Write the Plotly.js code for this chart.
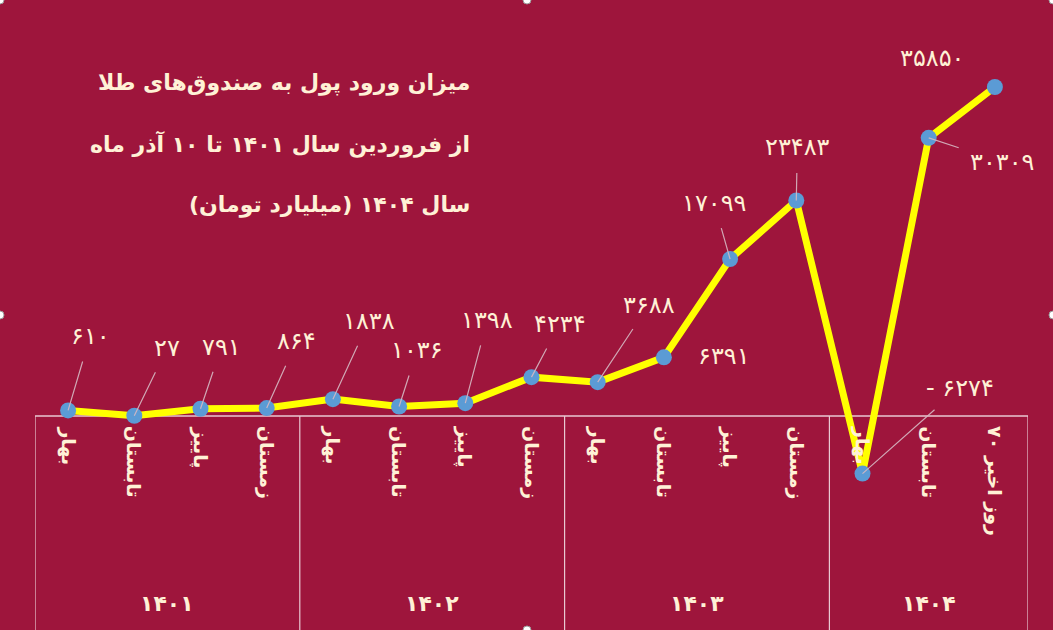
<!DOCTYPE html>
<html>
<head>
<meta charset="utf-8">
<script src="https://cdn.plot.ly/plotly-3.0.1.min.js"></script>
<style>html,body{margin:0;padding:0;background:#9E153C;}#chart{width:1053px;height:630px;}</style>
</head>
<body>
<div id="chart"></div>
<script>
// ---- data ----
const seasons = ['بهار','تابستان','پاییز','زمستان','بهار','تابستان','پاییز','زمستان','بهار','تابستان','پاییز','زمستان','بهار','تابستان','۷۰ روز اخیر'];
const years = ['۱۴۰۱','۱۴۰۲','۱۴۰۳','۱۴۰۴'];
const yearSpans = [4,4,4,3];
const values = [610,27,791,864,1838,1036,1398,4234,3688,6391,17099,23483,-6274,30309,35850];
const titleLines = ['میزان ورود پول به صندوق‌های طلا','از فروردین سال ۱۴۰۱ تا ۱۰ آذر ماه','سال ۱۴۰۴ (میلیارد تومان)'];

// label offsets (pixels) from the point, and whether a leader line is drawn
const labelOffsets = [[22,-74],[33,-68],[21,-62],[30,-67],[36,-78],[18,-56],[22,-83],[28,-53],[51,-77],[60,-1],[-16,-56],[1,-53],[97,-86],[73,24],[-63,-29]];
const leader = [1,1,1,1,1,1,1,1,1,0,1,1,1,1,0];

const W=1053,H=630,L=35,R=25;
const px=(x)=> (x-L)/(W-L-R);
const py=(y)=> 1-y/H;
const fa = (n)=> String(Math.abs(n)).replace(/[0-9]/g,d=>'۰۱۲۳۴۵۶۷۸۹'[d]);
const cream='#FFF1D6';
const font='DejaVu Sans';

const xs = values.map((v,i)=>i);
const trace = {
  x: xs, y: values, type:'scatter', mode:'lines+markers',
  line:{color:'#FFFF00', width:7},
  marker:{color:'#5B9BD5', size:16},
  hoverinfo:'none', cliponaxis:false
};

const ann = [];
values.forEach((v,i)=>{
  ann.push({x:i, y:v, xref:'x', yref:'y', text:(v<0?'- ':'')+fa(v),
    showarrow:true, ax:labelOffsets[i][0], ay:labelOffsets[i][1],
    arrowhead:0, arrowwidth:1.2, arrowcolor: leader[i]?'rgba(215,185,195,0.9)':'rgba(0,0,0,0)',
    standoff:0, startstandoff:10,
    font:{family:font, size:24, color:cream}});
});
seasons.forEach((s,i)=>{
  ann.push({x:i, y:py(424), xref:'x', yref:'paper', text:s, showarrow:false,
    textangle:90, xanchor:'center', yanchor:'top',
    font:{family:font, size:19, color:cream, weight:'bold'}});
});
const shapes=[];
let start=0;
years.forEach((yv,k)=>{
  const a=start-0.5, b=start+yearSpans[k]-0.5;
  ann.push({x:(a+b)/2, y:py(603), xref:'x', yref:'paper', text:yv, showarrow:false,
    xanchor:'center', yanchor:'middle', font:{family:font, size:22, color:cream, weight:'bold'}});
  shapes.push({type:'line', xref:'x', yref:'paper', x0:a, x1:a, y0:py(416), y1:0, line:{color:'#E9C9D2', width:1.2}});
  start += yearSpans[k];
});
shapes.push({type:'line', xref:'x', yref:'paper', x0:start-0.5, x1:start-0.5, y0:py(416), y1:0, line:{color:'#E9C9D2', width:1.2}});
shapes.push({type:'line', xref:'x', yref:'paper', x0:-0.5, x1:start-0.5, y0:py(416), y1:py(416), line:{color:'#E9C9D2', width:1.5}, layer:'below'});

// selection handles of the original picture
[[0,0],[527,0],[1053,0],[0,315],[1053,315],[527,630]].forEach(([hx,hy])=>{
  shapes.push({type:'circle', xref:'paper', yref:'paper', x0:px(hx-4), x1:px(hx+4), y0:py(hy+4), y1:py(hy-4),
    fillcolor:'#FFFFFF', line:{color:'#9a9a9a', width:1}});
});

const titleY=[83,144,205];
titleLines.forEach((t,k)=>{
  ann.push({x:px(472), y:py(titleY[k]), xref:'paper', yref:'paper', text:t, showarrow:false,
    xanchor:'right', yanchor:'middle', font:{family:font, size:22, color:cream, weight:'bold'}});
});

// y scale: zero at pixel 416, 35850 at pixel 87
const k=(416-87)/35850;
const yTop=416/k, yBot=-(H-416)/k;

const layout = {
  width:W, height:H, margin:{l:L,r:R,t:0,b:0},
  paper_bgcolor:'#9E153C', plot_bgcolor:'#9E153C',
  showlegend:false,
  xaxis:{range:[-0.5,14.5], visible:false, fixedrange:true},
  yaxis:{range:[yBot,yTop], visible:false, fixedrange:true},
  annotations:ann, shapes:shapes
};
Plotly.newPlot('chart',[trace],layout,{displayModeBar:false, staticPlot:true});
</script>
</body>
</html>
